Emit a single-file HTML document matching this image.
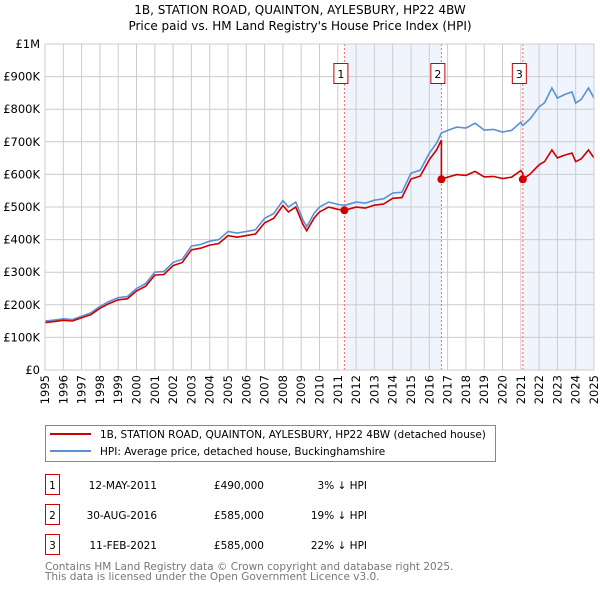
<!DOCTYPE html>
<html><head><meta charset="utf-8"><style>
body{margin:0;background:#fff;font-family:"DejaVu Sans","Liberation Sans",sans-serif;}
svg text{font-family:"DejaVu Sans","Liberation Sans",sans-serif;}
</style></head><body>
<svg id="chart" width="600" height="590" xmlns="http://www.w3.org/2000/svg">
<text x="300" y="14" text-anchor="middle" font-size="12">1B, STATION ROAD, QUAINTON, AYLESBURY, HP22 4BW</text>
<text x="300" y="30" text-anchor="middle" font-size="12">Price paid vs. HM Land Registry's House Price Index (HPI)</text>
<g id="plot"></g>
<g>
<rect x="45.5" y="425.5" width="450" height="36" fill="#fff" stroke="#888"/>
<line x1="50" y1="434" x2="91" y2="434" stroke="#cc0000" stroke-width="2"/>
<text x="100" y="438" font-size="10.5">1B, STATION ROAD, QUAINTON, AYLESBURY, HP22 4BW (detached house)</text>
<line x1="50" y1="451" x2="91" y2="451" stroke="#5b8fd6" stroke-width="2"/>
<text x="100" y="455" font-size="10.5">HPI: Average price, detached house, Buckinghamshire</text>
</g>
<g id="table" font-size="10.5"></g>
<text x="45" y="570" font-size="10.5" fill="#777">Contains HM Land Registry data © Crown copyright and database right 2025.</text>
<text x="45" y="580" font-size="10.5" fill="#777">This data is licensed under the Open Government Licence v3.0.</text>
</svg>
<script>
const hpiYears=[1995,1995.5,1996,1996.5,1997,1997.5,1998,1998.5,1999,1999.5,2000,2000.5,2001,2001.5,2002,2002.5,2003,2003.5,2004,2004.5,2005,2005.5,2006,2006.5,2007,2007.5,2008,2008.3,2008.7,2009.1,2009.3,2009.7,2010,2010.5,2011,2011.37,2012,2012.5,2013,2013.5,2014,2014.5,2015,2015.5,2016,2016.4,2016.66,2017,2017.5,2018,2018.5,2019,2019.5,2020,2020.5,2021,2021.11,2021.5,2022,2022.3,2022.7,2023,2023.4,2023.8,2024,2024.3,2024.7,2025];
const hpiValues=[150000,153000,157000,155000,165000,175000,195000,210000,222000,225000,250000,265000,300000,302000,330000,340000,380000,385000,395000,400000,425000,420000,425000,430000,465000,480000,520000,500000,515000,460000,440000,480000,500000,515000,508000,505000,515000,512000,521000,525000,543000,545000,604000,613000,665000,696000,727000,735000,745000,742000,757000,736000,738000,730000,735000,760000,750000,770000,807000,820000,865000,834000,845000,853000,819000,830000,865000,834000];
const saleLabels=["1","2","3"];
const saleYears=[2011.36,2016.66,2021.11];
const salePrices=[490000,585000,585000];
const saleDates=["12-MAY-2011","30-AUG-2016","11-FEB-2021"];
const salePriceText=["£490,000","£585,000","£585,000"];
const saleDiffText=["3% ↓ HPI","19% ↓ HPI","22% ↓ HPI"];
const yTicks=[0,100000,200000,300000,400000,500000,600000,700000,800000,900000,1000000];
const yTickLabels=["£0","£100K","£200K","£300K","£400K","£500K","£600K","£700K","£800K","£900K","£1M"];

const X0=45,X1=594,Y0=370,Y1=44;
const xs=y=>X0+(y-1995)/30*(X1-X0);
const ys=v=>Y0-v/1000000*(Y0-Y1);
const NS="http://www.w3.org/2000/svg";
const plot=document.getElementById('plot');
function mk(tag,attrs,parent){const e=document.createElementNS(NS,tag);for(const k in attrs)e.setAttribute(k,attrs[k]);(parent||plot).appendChild(e);return e;}
function hpiAt(t){for(let i=1;i<hpiYears.length;i++){if(t<=hpiYears[i]){const f=(t-hpiYears[i-1])/(hpiYears[i]-hpiYears[i-1]);return hpiValues[i-1]+f*(hpiValues[i]-hpiValues[i-1]);}}return hpiValues[hpiValues.length-1];}

for(let i=0;i<saleYears.length;i+=2){
 const end=i+1<saleYears.length?saleYears[i+1]:2025;
 const r=mk('rect',{x:xs(saleYears[i]),y:Y1,width:xs(end)-xs(saleYears[i]),height:Y0-Y1,fill:'#f0f4fd'});
 
 
}
for(let i=0;i<yTicks.length;i++){
 const l=mk('line',{x1:X0,x2:X1,y1:ys(yTicks[i]),y2:ys(yTicks[i]),stroke:'#cccccc'});
 
 
 const t=mk('text',{x:40,y:ys(yTicks[i])+4,'text-anchor':'end','font-size':'11.5'});
 t.textContent=yTickLabels[i];
 
 
}
for(let yr=1995;yr<=2025;yr++){
 const l=mk('line',{x1:xs(yr),x2:xs(yr),y1:Y1,y2:Y0,stroke:'#cccccc'});
 
 
 const t=mk('text',{transform:`translate(${xs(yr)+4},${Y0+5}) rotate(-90)`,'text-anchor':'end','font-size':'11.5'});
 t.textContent=String(yr);
 
 
}
saleYears.forEach((sy,i)=>{
 const l=mk('line',{x1:xs(sy),x2:xs(sy),y1:Y1,y2:Y0,stroke:'#ff6666','stroke-dasharray':'2,2'});
 
 
 const g=mk('g',{});
 
 
 mk('rect',{x:xs(sy)-10.5,y:63.5,width:14,height:20,fill:'#fff',stroke:'#cc0000'},g);
 const t=mk('text',{x:xs(sy)-3.5,y:78,'text-anchor':'middle','font-size':'11'},g);
 t.textContent=saleLabels[i];
});
let d='';hpiYears.forEach((y,i)=>{d+=(i?'L':'M')+xs(y).toFixed(1)+','+ys(hpiValues[i]).toFixed(1);});
const hp=mk('path',{d,fill:'none',stroke:'#5b8fd6','stroke-width':1.6});


function redAt(t){let k=0;for(let i=0;i<saleYears.length;i++)if(t>=saleYears[i])k=i;return salePrices[k]*hpiAt(t)/hpiAt(saleYears[k]);}
let pts=[];hpiYears.forEach(y=>pts.push(y));saleYears.forEach(s=>{pts.push(s-0.001);pts.push(s);});pts.sort((a,b)=>a-b);
let d2='';pts.forEach((y,i)=>{d2+=(i?'L':'M')+xs(y).toFixed(1)+','+ys(redAt(y)).toFixed(1);});
const rp=mk('path',{d:d2,fill:'none',stroke:'#cc0000','stroke-width':1.6});


saleYears.forEach((sy,i)=>{
 const c=mk('circle',{cx:xs(sy),cy:ys(salePrices[i]),r:4,fill:'#cc0000'});
 
 
});
const ax=mk('rect',{x:X0,y:Y1,width:X1-X0,height:Y0-Y1,fill:'none',stroke:'#cccccc'});


const tb=document.getElementById('table');
saleLabels.forEach((lb,i)=>{
 const y=485+i*30;
 const g=mk('g',{},tb);
 
 
 mk('rect',{x:45.5,y:y-10.5,width:14,height:20,fill:'#fff',stroke:'#cc0000'},g);
 const a=mk('text',{x:52.5,y:y+4,'text-anchor':'middle'},g);a.textContent=lb;
 const b=mk('text',{x:157,y:y+4,'text-anchor':'end'},g);b.textContent=saleDates[i];
 const c=mk('text',{x:264,y:y+4,'text-anchor':'end'},g);c.textContent=salePriceText[i];
 const e=mk('text',{x:367,y:y+4,'text-anchor':'end'},g);e.textContent=saleDiffText[i];
});
</script>
</body></html>
